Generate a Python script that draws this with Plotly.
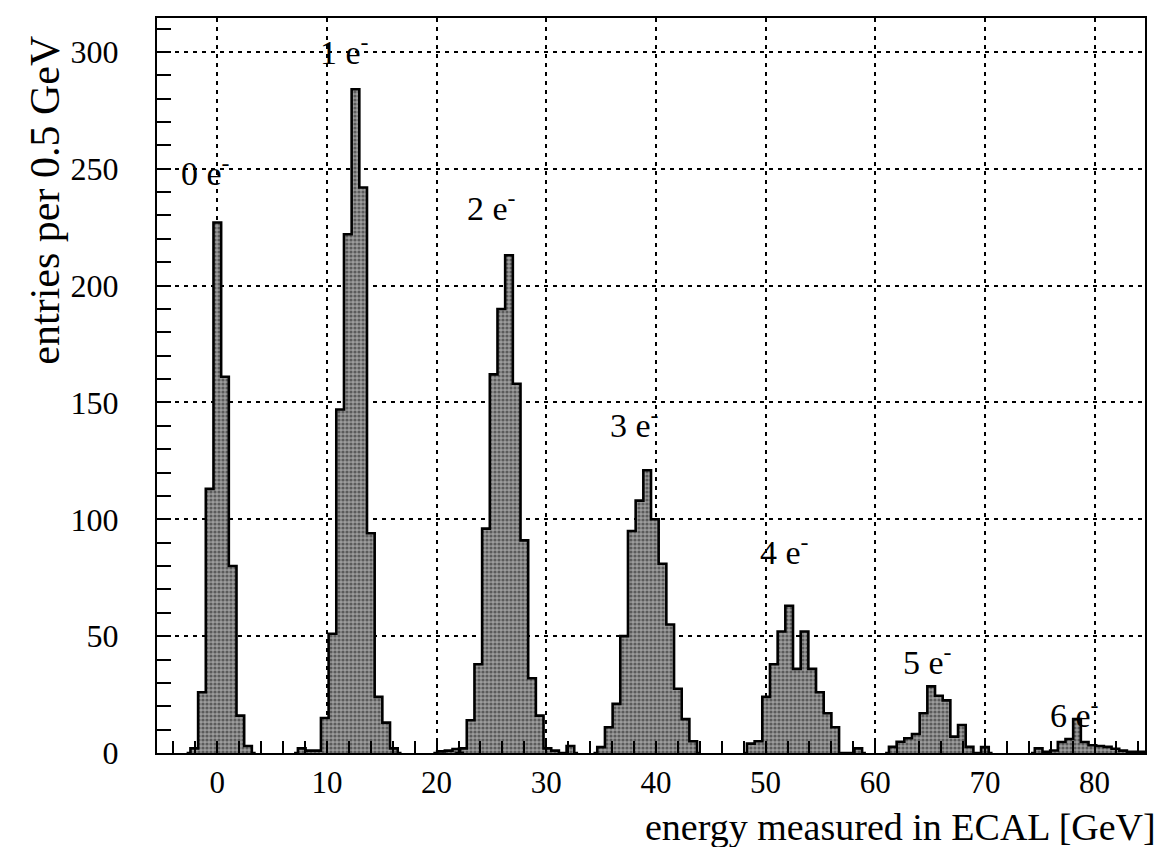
import numpy as np
import plotly.graph_objects as go

# ---------------- data ----------------
BIN = 0.7  # GeV, width of one drawn histogram bin

# each peak: lower edge (GeV) of its first bin and the entries per bin
peak0_start = -2.45
peak0_counts = [2, 26, 113, 227, 161, 80, 16, 3]
peak1_start = 7.35
peak1_counts = [2, 1, 1, 15, 51, 147, 222, 284, 242, 94, 24, 13, 2]
peak2_start = 22.05
peak2_counts = [2, 14, 38, 96, 162, 190, 213, 158, 91, 32, 16, 2, 1, 0, 3]
peak3_start = 34.65
peak3_counts = [2.5, 11, 21, 50, 95, 108, 121, 100, 81, 55, 27.5, 14.5, 5]
peak4_start = 48.3
peak4_counts = [4, 5, 24, 38, 52, 63, 36, 52, 36, 26, 17, 11, 0, 0, 2]
peak5_start = 61.25
peak5_counts = [2.6, 4.8, 6.3, 8.1, 17, 28.5, 24.5, 22.5, 7, 12, 2.6, 0, 2.5]
peak6_start = 74.55
peak6_counts = [2, 0.5, 1.1, 4.7, 6, 14.5, 4.7, 3.3, 3, 2.6, 1.8, 1, 0.5, 0.5, 0.5, 0.5]
noise_start = 20.05
noise_counts = [0.7, 1, 1.7]

peak_labels = ["0 e<sup>-</sup>", "1 e<sup>-</sup>", "2 e<sup>-</sup>", "3 e<sup>-</sup>",
               "4 e<sup>-</sup>", "5 e<sup>-</sup>", "6 e<sup>-</sup>"]
label_x = [-1.1, 11.6, 25.0, 38.0, 51.7, 64.8, 78.2]
label_y = [249, 301, 234, 141, 87, 40, 17]

x_title = "energy measured in ECAL [GeV]"
y_title = "entries per 0.5 GeV"

SERIF = "Liberation Serif, Times New Roman, serif"

fig = go.Figure()
groups = [(peak0_start, peak0_counts), (peak1_start, peak1_counts),
          (peak2_start, peak2_counts), (peak3_start, peak3_counts),
          (peak4_start, peak4_counts), (peak5_start, peak5_counts),
          (peak6_start, peak6_counts), (noise_start, noise_counts)]
for start, vals in groups:
    vals = np.asarray(vals, dtype=float)
    centres = start + BIN * (np.arange(len(vals)) + 0.5)
    fig.add_trace(go.Bar(
        x=centres, y=vals, width=BIN,
        marker=dict(color="#888888", line=dict(width=0),
                    pattern=dict(shape=".", fgcolor="#1a1a1a", bgcolor="#9c9c9c",
                                 size=4, solidity=0.5)),
        showlegend=False, hoverinfo="skip"))
    # outline: pad with empty bins on both sides so the steps close at the base
    xs = np.concatenate([[centres[0] - BIN], centres, [centres[-1] + BIN]])
    ys = np.concatenate([[0.0], vals, [0.0]])
    fig.add_trace(go.Scatter(
        x=xs, y=ys, mode="lines", line=dict(color="black", width=2.6, shape="hvh"),
        showlegend=False, hoverinfo="skip"))

for t, x, y in zip(peak_labels, label_x, label_y):
    fig.add_annotation(x=x, y=y, text=t, showarrow=False, xanchor="center", yanchor="middle",
                       font=dict(family=SERIF, size=34, color="black"))

fig.add_annotation(xref="paper", yref="paper", x=1.013, y=-0.101, text=x_title,
                   showarrow=False, xanchor="right", yanchor="middle",
                   font=dict(family=SERIF, size=38, color="black"))
fig.add_annotation(xref="paper", yref="paper", x=-0.113, y=0.752, text=y_title,
                   showarrow=False, xanchor="center", yanchor="middle", textangle=-90,
                   font=dict(family=SERIF, size=42, color="black"))

grid = dict(showgrid=True, gridcolor="black", gridwidth=1.6, griddash="4px,5px")
fig.update_xaxes(range=[-5.5, 84.6], dtick=10, tick0=0, ticks="inside", ticklen=12,
                 tickwidth=1.5, tickcolor="black",
                 minor=dict(dtick=2, ticks="inside", ticklen=12, tickcolor="black",
                            tickwidth=1.5, showgrid=False),
                 showline=True, linecolor="black", linewidth=2.4, mirror=True,
                 zeroline=False, ticklabelstandoff=1,
                 tickfont=dict(family=SERIF, size=31, color="black"), **grid)
fig.update_yaxes(range=[0, 314.5], dtick=50, tick0=0, ticks="inside", ticklen=14,
                 tickwidth=1.5, tickcolor="black",
                 minor=dict(dtick=10, ticks="inside", ticklen=14, tickcolor="black",
                            tickwidth=1.5, showgrid=False),
                 showline=True, linecolor="black", linewidth=2.4, mirror=True,
                 zeroline=False, ticklabelstandoff=30,
                 tickfont=dict(family=SERIF, size=32, color="black"), **grid)

fig.update_layout(width=1163, height=847, margin=dict(l=157, r=18, t=18, b=94),
                  plot_bgcolor="white", paper_bgcolor="white", bargap=0, barmode="overlay")

fig.write_html("out.html")
